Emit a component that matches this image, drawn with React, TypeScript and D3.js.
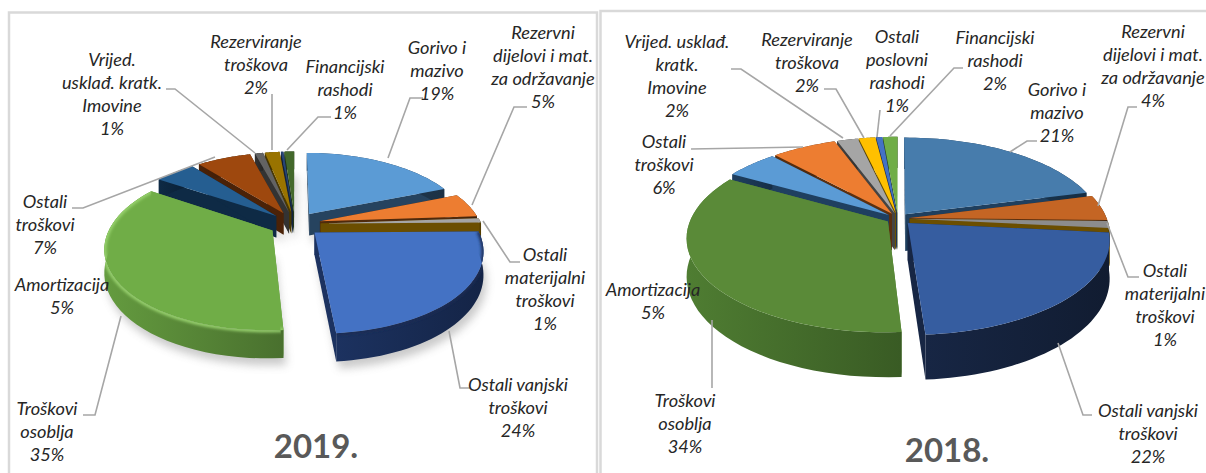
import React, { useEffect, useRef } from 'react';
import * as d3 from 'd3';

// slice order runs clockwise from 12 o'clock
const categories2019 = ['Gorivo i mazivo', 'Rezervni dijelovi i mat. za održavanje', 'Ostali materijalni troškovi', 'Ostali vanjski troškovi', 'Troškovi osoblja', 'Amortizacija', 'Ostali troškovi', 'Vrijed. usklađ. kratk. Imovine', 'Rezerviranje troškova', 'Ostali poslovni rashodi', 'Financijski rashodi'];
const values2019 = [19, 4.9, 0.9, 23.9, 35.49, 4.9, 6.6, 1, 1.8, 0.3, 1.2];
const values2018 = [21, 4.4, 1.2, 22.4, 34.3, 5, 6.2, 2, 1.6, 0.6, 1.4];

const tops2019 = ['#5b9bd5', '#ed7d31', '#a5a5a5', '#4472c4', '#70ad47', '#255e91', '#9e480e', '#636363', '#997300', '#264478', '#43682b'];
const walls2019 = ['#26435f', '#4f2a0c', '#6b4e00', '#1c3260', '#649b3f', '#0e2a45', '#4a2208', '#333333', '#4a3800', '#13233f', '#22361a'];
const rims2019 = [null, null, null, '#1b2c52', '#9ad46f', null, null, null, null, null, null];
const tops2018 = ['#477cac', '#c46524', '#8c8c8c', '#365da0', '#5a8a38', '#5b9bd5', '#ed7d31', '#a5a5a5', '#ffc000', '#4472c4', '#70ad47'];
const walls2018 = ['#1f3f5e', '#5c3010', '#6b4e00', '#172644', '#4f7d32', '#1f3f60', '#5c3010', '#444444', '#6b5200', '#1d3060', '#2f4a1c'];
const explode2019 = [0.16, 0.16, 0.16, 0.16, 0.16, 0.16, 0.16, 0.16, 0.16, 0.16, 0.16];
const explode2018 = [0.06, 0.06, 0.06, 0.07, 0.06, 0.06, 0.06, 0.06, 0.06, 0.06, 0.06];

type Label = { lines: string[]; x: number; y: number; step?: number; leader?: [number, number][] };

const labels2019: Label[] = [
  { lines: ['Vrijed.', 'usklađ. kratk.', 'Imovine', '1%'], x: 112, y: 60, leader: [[166, 89], [175, 89], [255, 153]] },
  { lines: ['Rezerviranje', 'troškova', '2%'], x: 256, y: 42, leader: [[272, 94], [272, 150]] },
  { lines: ['Financijski', 'rashodi', '1%'], x: 345, y: 67, leader: [[331, 117], [318, 117], [287, 150]] },
  { lines: ['Gorivo i', 'mazivo', '19%'], x: 437, y: 48, leader: [[423, 98], [410, 98], [388, 158]] },
  { lines: ['Rezervni', 'dijelovi i mat.', 'za održavanje', '5%'], x: 543, y: 33, leader: [[527, 107], [514, 107], [472, 205]] },
  { lines: ['Ostali', 'materijalni', 'troškovi', '1%'], x: 545, y: 255, leader: [[483, 221], [510, 262], [520, 262]] },
  { lines: ['Ostali vanjski', 'troškovi', '24%'], x: 518, y: 385, leader: [[449, 331], [460, 388], [470, 388]] },
  { lines: ['Troškovi', 'osoblja', '35%'], x: 47, y: 409, leader: [[121, 316], [95, 415], [83, 415]] },
  { lines: ['Amortizacija', '5%'], x: 62, y: 285 },
  { lines: ['Ostali', 'troškovi', '7%'], x: 45, y: 202, leader: [[72, 208], [83, 208], [215, 157]] },
];

const labels2018: Label[] = [
  { lines: ['Vrijed. usklađ.', 'kratk.', 'Imovine', '2%'], x: 677, y: 42, leader: [[731, 69], [741, 69], [843, 138]] },
  { lines: ['Rezerviranje', 'troškova', '2%'], x: 807, y: 40, leader: [[824, 89], [836, 89], [864, 138]] },
  { lines: ['Ostali', 'poslovni', 'rashodi', '1%'], x: 897, y: 37, leader: [[880, 110], [877, 137]] },
  { lines: ['Financijski', 'rashodi', '2%'], x: 995, y: 38, leader: [[963, 68], [954, 68], [890, 136]] },
  { lines: ['Gorivo i', 'mazivo', '21%'], x: 1057, y: 90, leader: [[1037, 141], [1027, 141], [1010, 152]] },
  { lines: ['Rezervni', 'dijelovi i mat.', 'za održavanje', '4%'], x: 1153, y: 32, leader: [[1137, 107], [1128, 107], [1098, 206]] },
  { lines: ['Ostali', 'materijalni', 'troškovi', '1%'], x: 1165, y: 271, leader: [[1107, 223], [1128, 277], [1139, 277]] },
  { lines: ['Ostali vanjski', 'troškovi', '22%'], x: 1148, y: 411, leader: [[1058, 343], [1083, 415], [1092, 415]] },
  { lines: ['Troškovi', 'osoblja', '34%'], x: 685, y: 401, leader: [[712, 320], [712, 388]] },
  { lines: ['Amortizacija', '5%'], x: 653, y: 290 },
  { lines: ['Ostali', 'troškovi', '6%'], x: 664, y: 142, leader: [[691, 149], [803, 147]] },
];

type PieConfig = {
  id: string;
  values: number[];
  tops: string[];
  walls: string[];
  explode: number[];
  rims?: (string | null)[];
  labels: Label[];
  title: string;
  titleX: number;
  titleY: number;
  cx: number;
  cy: number;
  R: number;
  ry: number;
  persp: number;
  depth: number;
  shadow: boolean;
};

const charts: PieConfig[] = [
  { id: 'y2019', values: values2019, tops: tops2019, walls: walls2019, explode: explode2019, rims: rims2019, labels: labels2019, title: '2019.', titleX: 316, titleY: 458, cx: 295, cy: 224, R: 161, ry: 77, persp: 0.2, depth: 22, shadow: true },
  { id: 'y2018', values: values2018, tops: tops2018, walls: walls2018, explode: explode2018, labels: labels2018, title: '2018.', titleX: 947, titleY: 462, cx: 898, cy: 218.5, R: 197, ry: 91, persp: 0.17, depth: 37, shadow: false },
];

const lineGen = d3.line<[number, number]>();

const drawPie = (svg: d3.Selection<SVGSVGElement, unknown, null, undefined>, c: PieConfig) => {
  const pie = d3.pie<number>().sort(null).value(d => d);
  const arcs = pie(c.values);

  // disc coordinates: X to the right, Y towards the viewer, z is drop below the top face
  const project = (X: number, Y: number, z = 0): [number, number] => {
    const s = 1 / (1 - c.persp * Y);
    return [c.cx + X * c.R * s, c.cy + (Y * c.ry + z) * s];
  };

  const slices = arcs.map((a, i) => {
    const mid = (a.startAngle + a.endAngle) / 2;
    const ox = Math.sin(mid) * c.explode[i];
    const oy = -Math.cos(mid) * c.explode[i];
    const angles = d3.range(0, 41).map(k => a.startAngle + (a.endAngle - a.startAngle) * k / 40);
    const rimAt = (z: number) => angles.map(t => project(ox + Math.sin(t), oy - Math.cos(t), z));
    const apex = (z: number) => project(ox, oy, z);
    return { i, mid, oy, rimAt, apex };
  });

  const root = svg.append('g');
  const defs = svg.select<SVGDefsElement>('defs');

  c.walls.forEach((w, i) => {
    const g = defs.append('linearGradient').attr('id', `${c.id}-wall-${i}`);
    g.append('stop').attr('offset', 0).attr('stop-color', w);
    g.append('stop').attr('offset', 1).attr('stop-color', d3.color(w)!.darker(0.9).formatHex());
  });

  if (c.shadow) {
    const sh = root.append('g').attr('filter', `url(#${c.id}-blur)`).attr('transform', 'translate(3,7)').attr('opacity', 0.45);
    slices.forEach(s => {
      const bottom = s.rimAt(c.depth);
      sh.append('path').attr('fill', '#8a8a8a').attr('d', lineGen([s.apex(c.depth), ...bottom])! + 'Z');
    });
    const f = defs.append('filter').attr('id', `${c.id}-blur`).attr('x', '-20%').attr('y', '-20%').attr('width', '140%').attr('height', '140%');
    f.append('feGaussianBlur').attr('stdDeviation', 4);
  }

  const soft = defs.append('filter').attr('id', `${c.id}-soft`);
  soft.append('feGaussianBlur').attr('stdDeviation', 1.6);

  // painter's order, back of the pie first
  [...slices].sort((a, b) => a.oy - b.oy).forEach(s => {
    const g = root.append('g');
    const top = s.rimAt(0);
    const bottom = s.rimAt(c.depth);
    const wall = c.walls[s.i];
    const firstEdge = [s.apex(0), top[0], bottom[0], s.apex(c.depth)] as [number, number][];
    const lastEdge = [s.apex(0), top[40], bottom[40], s.apex(c.depth)] as [number, number][];
    g.append('path').attr('fill', wall).attr('d', lineGen(firstEdge)! + 'Z');
    g.append('path').attr('fill', wall).attr('d', lineGen(lastEdge)! + 'Z');
    g.append('path')
      .attr('fill', `url(#${c.id}-wall-${s.i})`)
      .attr('d', lineGen([...top, ...[...bottom].reverse()])! + 'Z');
    g.append('path')
      .attr('fill', c.tops[s.i])
      .attr('d', lineGen([s.apex(0), ...top])! + 'Z');

    const rim = c.rims?.[s.i];
    if (rim) {
      const clipId = `${c.id}-clip-${s.i}`;
      defs.append('clipPath').attr('id', clipId).append('path')
        .attr('d', lineGen([s.apex(0), ...top, ...[...bottom].reverse(), s.apex(c.depth)])! + 'Z');
      g.append('g').attr('clip-path', `url(#${clipId})`)
        .append('path')
        .attr('fill', 'none')
        .attr('stroke', rim)
        .attr('stroke-width', 4)
        .attr('filter', `url(#${c.id}-soft)`)
        .attr('d', lineGen(top)!);
    }
  });

  // leader lines and labels sit on top of the pie
  c.labels.forEach(l => {
    if (l.leader) {
      root.append('path')
        .attr('fill', 'none')
        .attr('stroke', '#a6a6a6')
        .attr('stroke-width', 1.6)
        .attr('d', lineGen(l.leader)!);
    }
    const t = root.append('text')
      .attr('text-anchor', 'middle')
      .attr('font-family', 'Lato, sans-serif')
      .attr('font-style', 'italic')
      .attr('font-size', 18.2)
      .attr('fill', '#262626');
    l.lines.forEach((line, k) => {
      t.append('tspan')
        .attr('x', l.x)
        .attr('y', l.y + k * (l.step ?? 23))
        .attr('dy', '0.35em')
        .text(line);
    });
  });

  root.append('text')
    .attr('x', c.titleX)
    .attr('y', c.titleY)
    .attr('text-anchor', 'middle')
    .attr('font-family', 'Lato, sans-serif')
    .attr('font-weight', 700)
    .attr('font-size', 33)
    .attr('fill', '#595959')
    .text(c.title);
};

export default function App() {
  const ref = useRef<SVGSVGElement>(null);

  useEffect(() => {
    const svg = d3.select(ref.current!);
    svg.selectAll('*').remove();
    svg.append('defs');
    svg.append('rect').attr('width', 1206).attr('height', 473).attr('fill', '#fff');

    // panel frames
    svg.append('path').attr('fill', 'none').attr('stroke', '#d9d9d9').attr('stroke-width', 2.5)
      .attr('d', lineGen([[9, 475], [9, 12.5], [597, 12.5], [597, 475]])!);
    svg.append('path').attr('fill', 'none').attr('stroke', '#d9d9d9').attr('stroke-width', 2.5)
      .attr('d', lineGen([[600.5, 475], [600.5, 11], [1206, 11]])!);

    charts.forEach(c => drawPie(svg, c));
  }, []);

  return (
    <svg
      ref={ref}
      width={1206}
      height={473}
      aria-label={categories2019.join(', ')}
      style={{ position: 'absolute', left: 0, top: 0, display: 'block' }}
    />
  );
}
